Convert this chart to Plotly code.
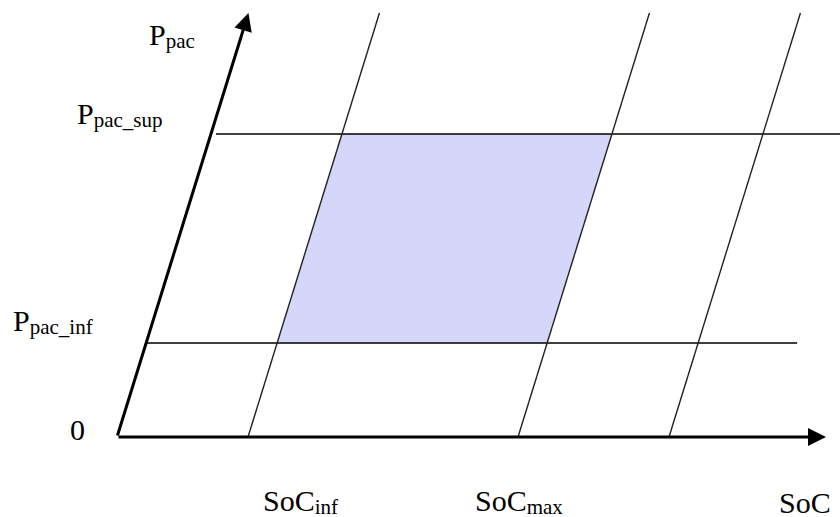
import plotly.graph_objects as go

# ---- diagram data (SoC along horizontal axis, Ppac along slanted axis) ----
origin_x, origin_y = 117, 80          # origin of the diagram in figure units
skew = 0.31                           # horizontal shift per unit of Ppac (slanted axis)
soc_axis_len = 709
ppac_axis_len = 424

SUB = "<span style='font-size:21px;baseline-shift:-3px'>{}</span>"

soc_names = ["SoC" + SUB.format("inf"), "SoC" + SUB.format("max"), ""]
soc_marks = [131, 401, 552]           # SoC thresholds along the horizontal axis
ppac_names = ["P" + SUB.format("pac_inf"), "P" + SUB.format("pac_sup")]
ppac_marks = [94, 303]                # Ppac thresholds along the slanted axis
ppac_line_start = [0, 5]              # where each horizontal line begins (SoC units)
ppac_line_end = [651, 650]            # where each horizontal line ends (SoC units)
slant_top = 424                       # height reached by the SoC lines

fill_color = "#D6D6FA"
font_family = "Liberation Serif, Times New Roman, serif"


def pt(soc, p):
    return origin_x + soc + skew * p, origin_y + p


fig = go.Figure()

# shaded admissible region
corners = [pt(soc_marks[0], ppac_marks[0]), pt(soc_marks[0], ppac_marks[1]),
           pt(soc_marks[1], ppac_marks[1]), pt(soc_marks[1], ppac_marks[0])]
fig.add_trace(go.Scatter(
    x=[c[0] for c in corners] + [corners[0][0]],
    y=[c[1] for c in corners] + [corners[0][1]],
    fill="toself", fillcolor=fill_color, mode="lines",
    line=dict(width=0), hoverinfo="skip", showlegend=False))

# horizontal Ppac lines
for p, s0, s1 in zip(ppac_marks, ppac_line_start, ppac_line_end):
    a, b = pt(s0, p), pt(s1, p)
    fig.add_trace(go.Scatter(x=[a[0], b[0]], y=[a[1], b[1]], mode="lines",
                             line=dict(color="#000000", width=1.6),
                             hoverinfo="skip", showlegend=False))

# slanted SoC lines
for s in soc_marks:
    a, b = pt(s, 0), pt(s, slant_top)
    fig.add_trace(go.Scatter(x=[a[0], b[0]], y=[a[1], b[1]], mode="lines",
                             line=dict(color="#222222", width=1.4),
                             hoverinfo="skip", showlegend=False))

# axes as arrows
ox, oy = pt(0, 0)
tx, ty = pt(soc_axis_len, 0)
px_, py_ = pt(0, ppac_axis_len)
for (x1, y1) in [(tx, ty), (px_, py_)]:
    fig.add_annotation(x=x1, y=y1, ax=ox, ay=oy, xref="x", yref="y",
                       axref="x", ayref="y", showarrow=True, arrowhead=2,
                       arrowsize=1.2, arrowwidth=3, arrowcolor="#000000",
                       standoff=0, startstandoff=0, text="")

font = dict(family=font_family, size=30, color="#000000")

# labels: (text, x, y, pixel shift)
labels = [
    ("P" + SUB.format("pac"), 147, 462, 0),
    (ppac_names[1], 75, 383, 0),
    (ppac_names[0], 11, 176, 0),
    ("0", 68, 69, 0),
    (soc_names[0], 261, 5, -9),
    (soc_names[1], 473, 5, -9),
    ("SoC", 777, 5, -9),
]
for txt, x, y, ys in labels:
    fig.add_annotation(x=x, y=y, xref="x", yref="y", text=txt, showarrow=False,
                       xanchor="left", yanchor="bottom", yshift=ys, font=font)

fig.update_xaxes(range=[0, 840], visible=False, showgrid=False, zeroline=False)
fig.update_yaxes(range=[0, 517], visible=False, showgrid=False, zeroline=False)
fig.update_layout(width=840, height=517, margin=dict(l=0, r=0, t=0, b=0),
                  plot_bgcolor="white", paper_bgcolor="white")

fig.write_html("out.html", config={"displayModeBar": False})

# remove the default page margin so the figure sits at the window's corner
with open("out.html", "r", encoding="utf-8") as f:
    html = f.read()
html = html.replace("<head>", "<head><style>body{margin:0;overflow:hidden}</style>", 1)
with open("out.html", "w", encoding="utf-8") as f:
    f.write(html)
